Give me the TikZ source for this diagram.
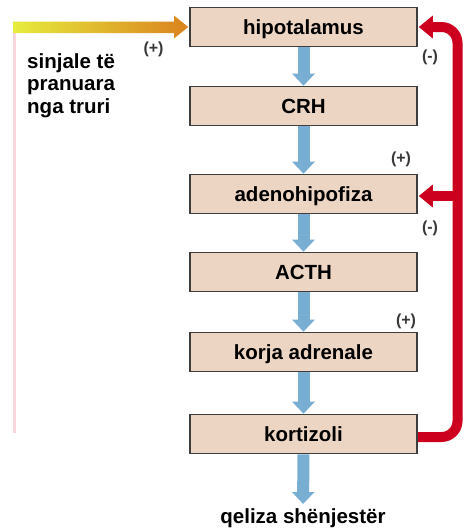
\documentclass[tikz,border=0pt]{standalone}
\usepackage{fontspec}
\setmainfont{Liberation Sans}
\usetikzlibrary{arrows.meta,backgrounds}

\definecolor{boxfill}{RGB}{237,213,196}
\definecolor{boxline}{RGB}{62,62,62}
\definecolor{flowblue}{RGB}{121,174,211}
\definecolor{fbred}{RGB}{204,0,30}
\definecolor{sigyellow}{RGB}{230,236,60}
\definecolor{sigorange}{RGB}{218,130,30}
\definecolor{railpink}{RGB}{250,214,222}

\begin{document}
\begin{tikzpicture}[x=1pt,y=-1pt,
  stage/.style={draw=boxline, line width=1.6pt, fill=boxfill,
    minimum width=227pt, minimum height=39pt, inner sep=0pt,
    text height=14.7pt, text depth=0pt,
    font=\fontsize{20.5}{23}\selectfont\bfseries},
  flow/.style={draw=flowblue, line width=12pt,
    -{Triangle[width=22pt,length=12pt]}},
  feedback/.style={draw=fbred, line width=10pt,
    -{Triangle[width=22pt,length=14pt]}},
  sign/.style={font=\fontsize{16}{18}\selectfont\bfseries,
    text=black!78, inner sep=0pt},
  caption/.style={font=\fontsize{20.5}{22.5}\selectfont\bfseries,
    inner sep=0pt}]
\useasboundingbox (0,0) rectangle (469,528);

% hormonal cascade
\node[stage] (hipo)  at (303.5,27)  {hipotalamus};
\node[stage] (crh)   at (303.5,106) {CRH};
\node[stage] (adeno) at (303.5,194) {adenohipofiza};
\node[stage] (acth)  at (303.5,272) {ACTH};
\node[stage] (korja) at (303.5,352) {korja adrenale};
\node[stage] (korti) at (303.5,434) {kortizoli};
\node[caption, anchor=base] (cells) at (303,523) {qeliza shënjestër};

% incoming brain signals
\node[caption, align=left, anchor=north west] (signals) at (27,53)
  {sinjale të\\pranuara\\nga truri};
\coordinate (brain) at (13,27);
\coordinate (rail) at (457.5,0);
\coordinate (hipoIn) at ([xshift=1pt]hipo.east);
\coordinate (adenoIn) at ([xshift=1pt,yshift=-2pt]adeno.east);
\coordinate (kortiOut) at ([yshift=-3pt]korti.east);

\begin{scope}[on background layer]
  \draw[railpink, line width=3pt] (14.5,33) -- (14.5,433);
  \shade[left color=sigyellow, right color=sigorange]
    (brain) ++(0,-5.5) -- (174,21.5) -- (174,15.5) -- ([xshift=-1pt]hipo.west)
    -- (174,38.5) -- (174,33) -- (13,33) -- cycle;
  \draw[flow] (hipo.south) -- (crh.north);
  \draw[flow] (crh.south) -- (adeno.north);
  \draw[flow] (adeno.south) -- (acth.north);
  \draw[flow] (acth.south) -- (korja.north);
  \draw[flow] (korja.south) -- (korti.north);
  \draw[flow, shorten >=4pt] (korti.south) -- (cells.north);
  % negative feedback of cortisol
  \draw[feedback, rounded corners=16pt]
    (kortiOut) -| (rail |- hipoIn) -- (hipoIn);
  \draw[feedback] (rail |- adenoIn) -- (adenoIn);
\end{scope}

% signs of the regulation
\node[sign] at (153.5,49) {(+)};
\node[sign] at (430,57)   {(-)};
\node[sign] at (401,159)  {(+)};
\node[sign] at (430,228)  {(-)};
\node[sign] at (406,321)  {(+)};
\end{tikzpicture}
\end{document}
